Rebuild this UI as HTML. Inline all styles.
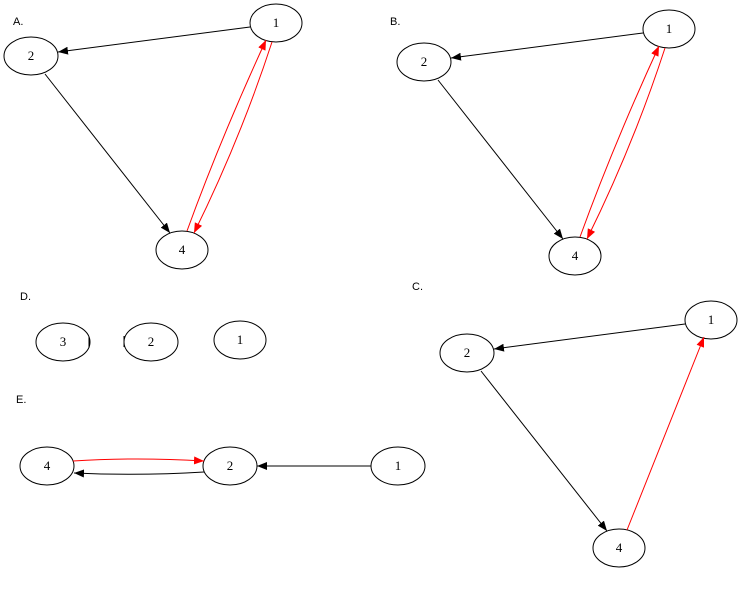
<!DOCTYPE html>
<html><head><meta charset="utf-8"><style>body{margin:0;background:#fff}svg{display:block}</style></head>
<body>
<svg width="750" height="605" viewBox="0 0 750 605" xmlns="http://www.w3.org/2000/svg">
<defs>
<marker id="k" markerWidth="10" markerHeight="8" refX="10" refY="4" orient="auto" markerUnits="userSpaceOnUse"><path d="M0,0L10,4L0,8Z" fill="#000"/></marker>
<marker id="r" markerWidth="10" markerHeight="8" refX="10" refY="4" orient="auto" markerUnits="userSpaceOnUse"><path d="M0,0L10,4L0,8Z" fill="#f00"/></marker>
</defs>
<g font-family="Liberation Sans, sans-serif" font-size="11" fill="#000">
<text x="13" y="25">A.</text><text x="390" y="25">B.</text><text x="20" y="300">D.</text><text x="412" y="290">C.</text><text x="16" y="403">E.</text>
</g>
<g fill="none" stroke="#000" stroke-width="1">
<!-- A -->
<ellipse cx="276" cy="23" rx="26" ry="19"/><ellipse cx="31" cy="56" rx="27" ry="19"/><ellipse cx="182" cy="250" rx="26" ry="19"/>
<line x1="250" y1="27" x2="58" y2="52" marker-end="url(#k)"/>
<line x1="45" y1="74" x2="170" y2="233" marker-end="url(#k)"/>
<path d="M187,231 Q220,140 266,40" stroke="#f00" marker-end="url(#r)"/>
<path d="M272,42 Q240,140 194,233" stroke="#f00" marker-end="url(#r)"/>
<!-- B -->
<ellipse cx="669" cy="29" rx="26" ry="19"/><ellipse cx="424" cy="62" rx="27" ry="19"/><ellipse cx="575" cy="256" rx="26" ry="19"/>
<line x1="643" y1="33" x2="451" y2="58" marker-end="url(#k)"/>
<line x1="438" y1="80" x2="563" y2="239" marker-end="url(#k)"/>
<path d="M580,237 Q613,146 659,46" stroke="#f00" marker-end="url(#r)"/>
<path d="M665,48 Q633,146 587,239" stroke="#f00" marker-end="url(#r)"/>
<!-- C -->
<ellipse cx="711" cy="320" rx="26" ry="19"/><ellipse cx="467" cy="353" rx="27" ry="19"/><ellipse cx="619" cy="548" rx="26" ry="19"/>
<line x1="685" y1="324" x2="494" y2="349" marker-end="url(#k)"/>
<line x1="481" y1="371" x2="607" y2="531" marker-end="url(#k)"/>
<line x1="627" y1="530" x2="704" y2="337" stroke="#f00" marker-end="url(#r)"/>
<!-- D -->
<ellipse cx="63" cy="342" rx="27" ry="19"/><ellipse cx="151" cy="342" rx="27" ry="19"/><ellipse cx="240" cy="340" rx="26" ry="19"/>
<line x1="89" y1="337" x2="89" y2="348"/><line x1="124" y1="336" x2="124" y2="347"/>
<!-- E -->
<ellipse cx="47" cy="466" rx="27" ry="19"/><ellipse cx="230" cy="466" rx="27" ry="19"/><ellipse cx="398" cy="466" rx="27" ry="19"/>
<path d="M73,461 Q135,457 204,461" stroke="#f00" marker-end="url(#r)"/>
<path d="M204,472 Q140,476 74,473" marker-end="url(#k)"/>
<line x1="371" y1="466" x2="257" y2="466" marker-end="url(#k)"/>
</g>
<g font-family="Liberation Serif, serif" font-size="13" text-anchor="middle" fill="#000">
<text x="276" y="27">1</text><text x="31" y="60">2</text><text x="182" y="254">4</text>
<text x="669" y="33">1</text><text x="424" y="66">2</text><text x="575" y="260">4</text>
<text x="711" y="324">1</text><text x="467" y="357">2</text><text x="619" y="552">4</text>
<text x="63" y="346">3</text><text x="151" y="346">2</text><text x="240" y="344">1</text>
<text x="47" y="470">4</text><text x="230" y="470">2</text><text x="398" y="470">1</text>
</g>
</svg>
</body></html>
